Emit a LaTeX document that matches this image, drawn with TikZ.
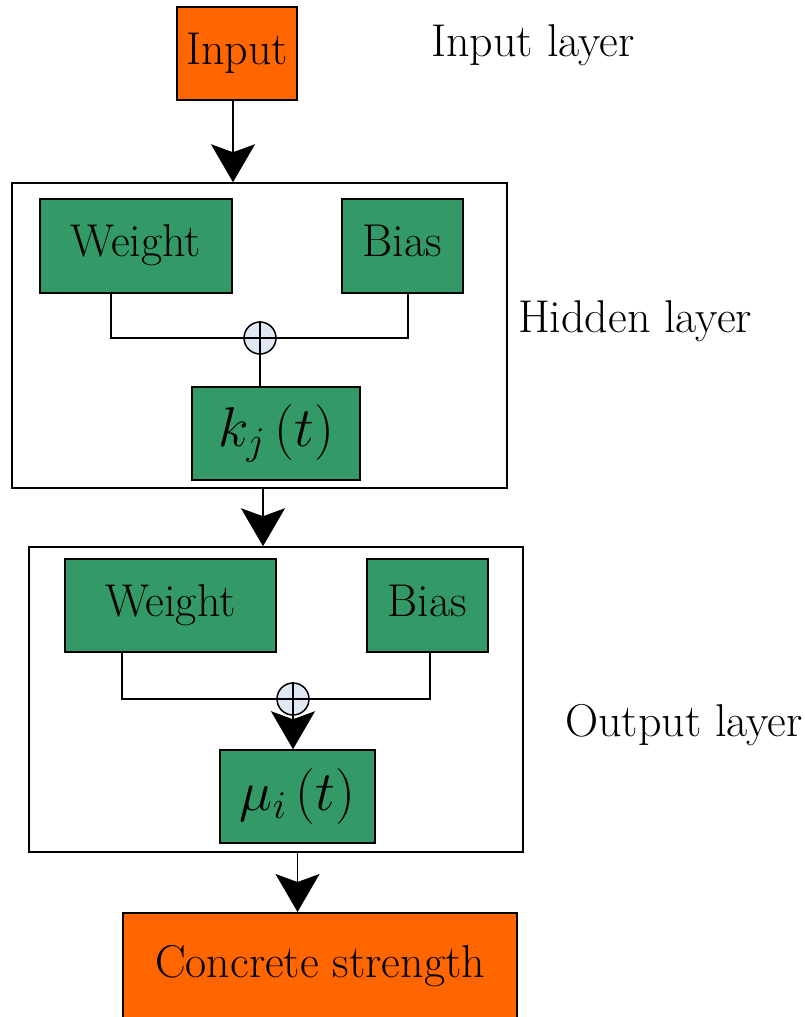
\documentclass[tikz,border=0pt]{standalone}
\usepackage{fix-cm}
\usepackage{tikz}
\usetikzlibrary{arrows.meta}
\usepackage{xcolor}
\definecolor{nnorange}{RGB}{255,102,0}
\definecolor{nngreen}{RGB}{51,153,102}
\definecolor{nnsum}{RGB}{224,232,245}
\tikzstyle{layerbox} = [draw, line width=1.5pt, fill=white, inner sep=0pt]
\tikzstyle{greenbox} = [draw, line width=1.5pt, fill=nngreen, inner sep=0pt]
\tikzstyle{orangebox} = [draw, line width=1.5pt, fill=nnorange, inner sep=0pt]
\tikzstyle{wordtext} = [text height=31pt, text depth=10pt]
\tikzstyle{sumnode} = [draw, circle, line width=1.5pt, fill=nnsum, minimum size=32pt, inner sep=0pt]
\tikzstyle{wire} = [line width=1.5pt]
\tikzstyle{arrow} = [line width=1.5pt,-{Stealth[length=38pt,width=44pt,inset=8pt]}]

\begin{document}
\begin{tikzpicture}[x=1pt, y=-1pt, font=\fontsize{46}{55}\selectfont]
\useasboundingbox (0,0) rectangle (805,1017);
\clip (0,0) rectangle (805,1017);

% Layer frames
\node[layerbox, minimum width=495, minimum height=305] (hid) at (259.5,335.5) {};
\node[layerbox, minimum width=494, minimum height=305] (out) at (276,699.5) {};

% Input and result
\node[orangebox, wordtext, minimum width=120, minimum height=93] (inp) at (237,53.5) {Input};
\node[orangebox, anchor=north, minimum width=394, text height=65pt, text depth=60pt] (cs) at (320,912) {Concrete strength};

% Hidden layer
\node[greenbox, wordtext, minimum width=192, minimum height=94] (w1) at (136,246) {Weight};
\node[greenbox, wordtext, minimum width=121, minimum height=94] (b1) at (402.5,246) {Bias};
\node[sumnode] (s1) at (260,338) {};
\node[greenbox, minimum width=168, minimum height=93, font=\fontsize{56}{66}\selectfont] (kj) at (276,433.5)
  {$k_{j}\left(t\right)$};

% Output layer
\node[greenbox, wordtext, minimum width=211, minimum height=93] (w2) at (170.5,605.5) {Weight};
\node[greenbox, wordtext, minimum width=121, minimum height=93] (b2) at (427.5,605.5) {Bias};
\node[sumnode] (s2) at (293,699) {};
\node[greenbox, minimum width=155, minimum height=93, font=\fontsize{56}{66}\selectfont] (mu) at (297.5,796.5)
  {$\mu_{i}\left(t\right)$};

% Labels
\node[anchor=base] (inlab) at (533,56) {Input layer};
\node[anchor=base] (hidlab) at (635,332) {Hidden layer};
\node[anchor=base] (outlab) at (684,736) {Output layer};

% Wires
\draw[wire] ([xshift=-25pt]w1.south) |- (s1.west);
\draw[wire] ([xshift=5.5pt]b1.south) |- (s1.east);
\draw[wire] (s1.north) -- (s1.south) (s1.west) -- (s1.east);
\draw[wire] (s1.south) -- (s1 |- kj.north);
\draw[wire] ([xshift=-48.5pt]w2.south) |- (s2.west);
\draw[wire] ([xshift=2.5pt]b2.south) |- (s2.east);
\draw[wire] (s2.north) -- (s2.south) (s2.west) -- (s2.east);

% Arrows
\draw[arrow] ([xshift=-4pt]inp.south) -- ([xshift=-4pt]inp.south |- hid.north);
\draw[arrow] ([xshift=3pt]s1 |- hid.south) -- ([xshift=3pt]s1 |- out.north);
\draw[arrow] (s2.south) -- (s2 |- mu.north);
\draw[arrow] (mu |- out.south) -- (mu |- cs.north);
\end{tikzpicture}
\end{document}
